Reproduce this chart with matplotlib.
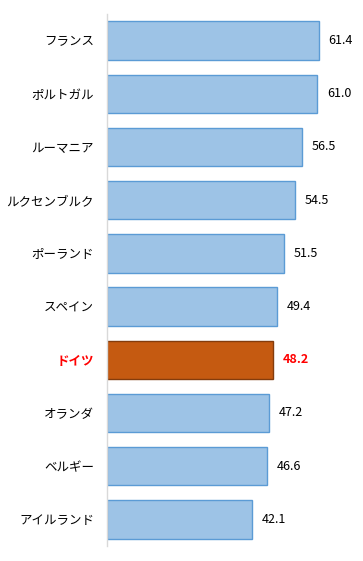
import matplotlib.pyplot as plt

plt.rcParams['font.family'] = ['Noto Sans CJK JP', 'DejaVu Sans']

countries = ['フランス', 'ポルトガル', 'ルーマニア', 'ルクセンブルク', 'ポーランド',
             'スペイン', 'ドイツ', 'オランダ', 'ベルギー', 'アイルランド']
values = [61.4, 61.0, 56.5, 54.5, 51.5, 49.4, 48.2, 47.2, 46.6, 42.1]
highlight = 'ドイツ'

fig = plt.figure(figsize=(3.63, 5.61), dpi=100)
ax = fig.add_axes([106.5 / 363, 15 / 561, 241.7 / 363, 532 / 561])

ys = list(range(len(countries)))
for y, name, val in zip(ys, countries, values):
    if name == highlight:
        fc, ec = '#C55A11', '#843C0C'
        tcol, weight = '#FF0000', 'bold'
    else:
        fc, ec = '#9DC3E6', '#5B9BD5'
        tcol, weight = '#000000', 'normal'
    ax.barh(y, val, height=0.72, color=fc, edgecolor=ec, linewidth=1)
    ax.annotate(f'{val:.1f}', (val, y), xytext=(7, 0), textcoords='offset points',
                va='center', ha='left', fontsize=9, color=tcol, fontweight=weight)

ax.set_yticks(ys)
ax.set_yticklabels(countries, fontsize=9)
for lbl, name in zip(ax.get_yticklabels(), countries):
    if name == highlight:
        lbl.set_color('#FF0000')
        lbl.set_fontweight('bold')

ax.set_ylim(len(countries) - 0.5, -0.5)
ax.set_xlim(0, 70)
ax.tick_params(axis='y', length=0, pad=9)
ax.set_xticks([])
for s in ['top', 'right', 'bottom']:
    ax.spines[s].set_visible(False)
ax.spines['left'].set_color('#D9D9D9')
ax.spines['left'].set_linewidth(1)

fig.savefig('out.png', dpi=100)
